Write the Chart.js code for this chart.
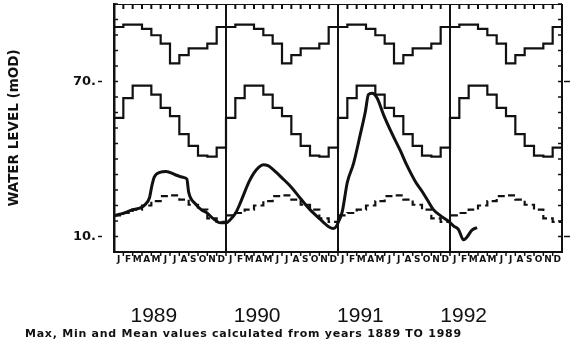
<!DOCTYPE html>
<html>
<head>
<meta charset="utf-8">
<script src="https://cdn.jsdelivr.net/npm/chart.js@4.4.1/dist/chart.umd.min.js"></script>
<style>
    html, body { margin: 0; padding: 0; background: #fff; }
    #wrap { position: relative; width: 573px; height: 346px; }
    #footer {
        position: absolute; left: 25px; top: 327px;
        font: bold 11px "DejaVu Sans"; letter-spacing: 0.75px;
        color: #111; white-space: nowrap;
    }
</style>
</head>
<body>
<div id="wrap">
    <canvas id="chart" width="573" height="346"></canvas>
    <div id="footer">Max, Min and Mean values calculated from years 1889 TO 1989</div>
</div>
<script>
// categories and tick labels
const monthLetters = ['J', 'F', 'M', 'A', 'M', 'J', 'J', 'A', 'S', 'O', 'N', 'D']
const years = [1989, 1990, 1991, 1992]
const yTickValues = [4, 10, 16, 22, 28, 34, 40, 46, 52, 58, 64, 70, 76, 82, 88, 94, 100]
const yLabelled = [10, 70]

// monthly climatology (mOD), same every year
const maxLevels = [91.1, 92.0, 92.0, 90.4, 87.9, 84.7, 77.0, 80.2, 82.8, 82.8, 84.7, 91.1]
const midLevels = [55.9, 63.6, 68.4, 68.4, 64.9, 59.8, 56.6, 49.6, 45.1, 41.3, 40.9, 44.4]
const meanLevels = [18.2, 19.1, 20.4, 22.0, 23.7, 25.6, 25.9, 24.3, 22.3, 20.4, 17.0, 15.7]

// observed water level, time in months from Jan 1989
const levelMonths = [0, 0.6, 1.1, 2.0, 2.9, 3.4, 3.8, 4.05, 4.3, 4.9,
    5.6, 6.5, 7.4, 7.8, 8.0, 8.7, 9.4, 9.9, 10.6, 11.4,
    12.0, 12.5, 13.0, 13.5, 14.0, 14.5, 15.0, 15.5, 16.0, 16.5,
    17.0, 18.0, 19.0, 20.0, 21.0, 22.0, 22.5, 23.0, 23.5, 23.8,
    24.0, 24.45, 25.0, 25.66, 26.4, 26.94, 27.26, 27.66, 28.19, 28.86,
    29.8, 30.68, 31.4, 32.3, 33.0, 33.6, 34.2, 35.0, 36.0, 36.4,
    36.9, 37.45, 37.8, 38.35, 38.9]
const levelValues = [18.0, 18.6, 19.1, 20.4, 21.2, 22.6, 25.0, 29.5, 32.9, 34.8,
    35.2, 34.0, 32.9, 32.3, 27.2, 22.7, 20.2, 19.3, 17.0, 15.3,
    15.3, 16.7, 18.9, 22.7, 27.2, 31.4, 34.6, 36.8, 37.8, 37.4,
    36.1, 32.7, 29.1, 24.6, 20.4, 17.0, 15.3, 13.8, 13.1, 13.8,
    15.3, 19.5, 31.0, 38.2, 49.7, 58.5, 65.0, 65.5, 63.6, 57.3,
    49.7, 43.2, 37.4, 31.2, 27.5, 24.0, 20.5, 18.0, 15.4, 14.0,
    12.8, 8.7, 9.7, 12.5, 13.4]

const ink = '#111'
const font = 'DejaVu Sans'

// repeat a 12 month climatology over every year as step points
function monthlySteps(values) {
    let points = []
    years.forEach((year, i) => {
        values.forEach((v, m) => points.push({ x: i * 12 + m, y: v }))
    })
    points.push({ x: years.length * 12, y: values[values.length - 1] })
    return points
}

function stepDataset(values, dash) {
    return {
        data: monthlySteps(values),
        stepped: true,
        borderColor: ink,
        borderWidth: 2.2,
        borderDash: dash,
        pointRadius: 0,
        fill: false
    }
}

// frame: year dividers, right edge, top ticks and small axis ticks
const frame = {
    id: 'frame',
    afterDatasetsDraw(chart) {
        const { ctx, chartArea: a, scales: { x, y } } = chart
        const line = (x1, y1, x2, y2) => {
            ctx.beginPath()
            ctx.moveTo(x1, y1)
            ctx.lineTo(x2, y2)
            ctx.stroke()
        }
        ctx.save()
        ctx.strokeStyle = ink

        ctx.lineWidth = 2
        for (let m = 12; m <= years.length * 12; m += 12) {
            const px = x.getPixelForValue(m)
            line(px, a.top, px, a.bottom)
        }

        // month ticks hanging from the top edge
        ctx.lineWidth = 1
        line(a.left, a.top + 0.5, a.right, a.top + 0.5)
        ctx.lineWidth = 2
        for (let m = 0; m <= years.length * 12; m++) {
            const px = x.getPixelForValue(m)
            line(px, a.top, px, a.top + 5)
        }

        // inward ticks on both vertical axes
        ctx.lineWidth = 1.5
        yTickValues.forEach(v => {
            const py = y.getPixelForValue(v)
            line(a.left, py, a.left + 4, py)
            line(a.right - 4, py, a.right, py)
        })

        // outward marks at labelled values
        yLabelled.forEach(v => {
            const py = y.getPixelForValue(v)
            line(a.left - 16, py, a.left - 12, py)
            line(a.right + 2, py, a.right + 8, py)
        })

        // small ticks under the axis between month letters
        for (let m = 1; m < years.length * 12; m++) {
            const px = x.getPixelForValue(m)
            line(px, a.bottom, px, a.bottom + 4)
        }
        ctx.restore()
    }
}

const ctx = document.getElementById('chart').getContext('2d')
new Chart(ctx, {
    type: 'line',
    data: {
        datasets: [
            stepDataset(maxLevels, []),
            stepDataset(midLevels, []),
            stepDataset(meanLevels, [7, 4]),
            {
                data: levelMonths.map((m, i) => ({ x: m, y: levelValues[i] })),
                borderColor: ink,
                borderWidth: 3,
                pointRadius: 0,
                cubicInterpolationMode: 'monotone',
                fill: false
            }
        ]
    },
    options: {
        responsive: false,
        animation: false,
        devicePixelRatio: 1,
        layout: { padding: { left: 0, right: 11, top: 4, bottom: 0 } },
        plugins: { legend: { display: false }, tooltip: { enabled: false } },
        scales: {
            x: {
                type: 'linear',
                position: 'bottom',
                weight: 0,
                min: 0,
                max: years.length * 12,
                afterFit: (scale) => {
                    scale.height = 20
                    scale.paddingLeft = 0
                    scale.paddingRight = 0
                },
                afterBuildTicks: (scale) => {
                    scale.ticks = []
                    for (let m = 0; m < years.length * 12; m++) scale.ticks.push({ value: m + 0.5 })
                },
                ticks: {
                    autoSkip: false,
                    maxRotation: 0,
                    padding: 2,
                    color: ink,
                    font: { family: font, size: 9, weight: 'bold' },
                    callback: (value) => monthLetters[Math.floor(value) % 12]
                },
                grid: { display: false, drawTicks: false },
                border: { display: true, color: ink, width: 2 }
            },
            xYear: {
                type: 'linear',
                position: 'bottom',
                weight: 1,
                min: 1988.614,
                max: 1992.952,
                afterFit: (scale) => {
                    scale.height = 74
                    scale.paddingLeft = 0
                    scale.paddingRight = 0
                },
                afterBuildTicks: (scale) => {
                    scale.ticks = years.map(v => ({ value: v }))
                },
                ticks: {
                    autoSkip: false,
                    maxRotation: 0,
                    padding: 32,
                    color: ink,
                    font: { family: 'Liberation Sans', size: 21 },
                    callback: (value) => String(value)
                },
                grid: { display: false, drawTicks: false },
                border: { display: false }
            },
            y: {
                type: 'linear',
                position: 'left',
                min: 4,
                max: 100,
                // fixed width, and no extra room asked for the label padding
                afterFit: (scale) => {
                    scale.width = 114
                    scale.paddingTop = 0
                    scale.paddingBottom = 0
                },
                afterBuildTicks: (scale) => {
                    scale.ticks = yTickValues.map(v => ({ value: v }))
                },
                ticks: {
                    autoSkip: false,
                    padding: 18,
                    color: ink,
                    font: { family: font, size: 13, weight: 'bold' },
                    callback: (value) => yLabelled.includes(value) ? value + '.' : ''
                },
                grid: { display: false, drawTicks: false },
                border: { display: true, color: ink, width: 2.5 },
                title: {
                    display: true,
                    text: 'WATER LEVEL (mOD)',
                    color: ink,
                    font: { family: font, size: 13.5, weight: 'bold' },
                    padding: { top: 6, bottom: 0 }
                }
            }
        }
    },
    plugins: [frame]
})
</script>
</body>
</html>
